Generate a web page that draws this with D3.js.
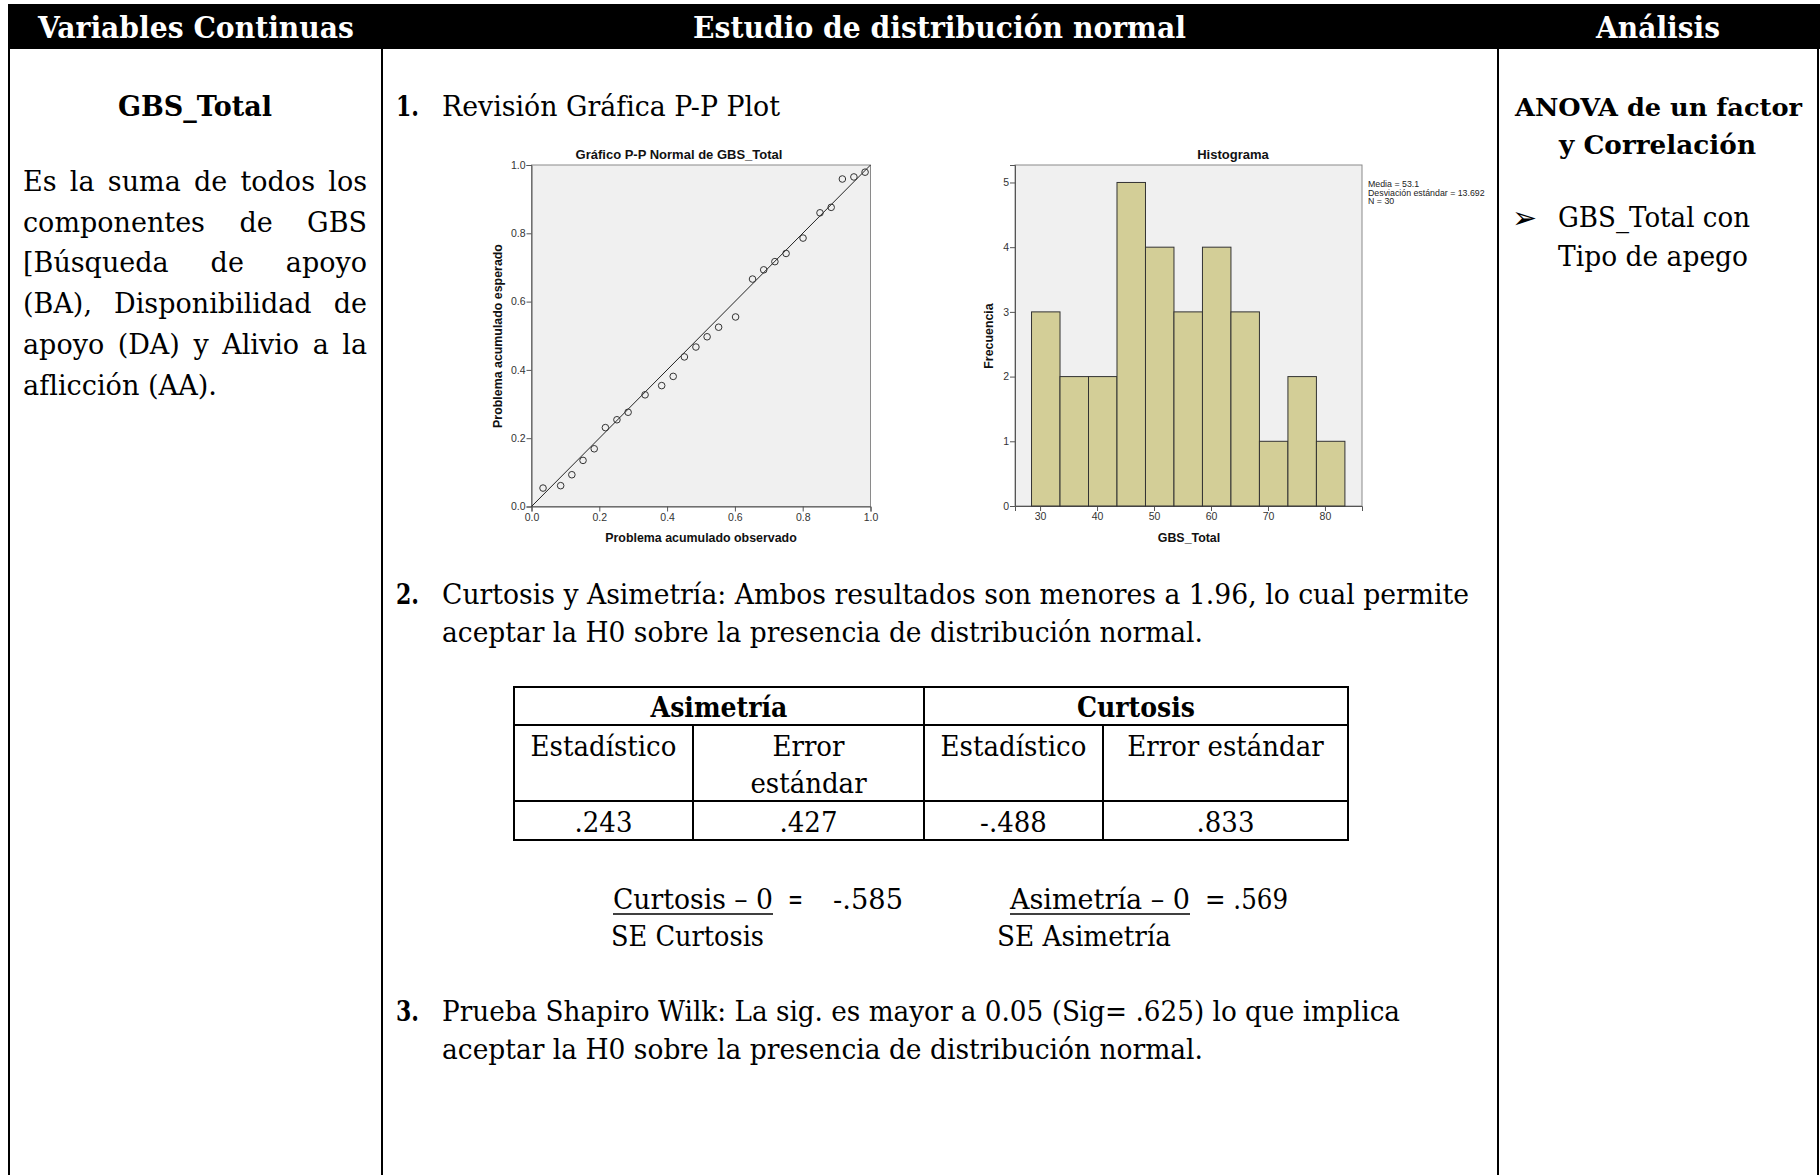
<!DOCTYPE html>
<html lang="es">
<head>
<meta charset="UTF-8">
<title>GBS_Total - Estudio de distribución normal</title>
<script src="https://d3js.org/d3.v7.min.js"></script>
<style>
  body { margin: 0; background: #fff; }
  svg { display: block; }
  .serif { font-family: "DejaVu Serif", "Liberation Serif", serif; }
  .spss { font-family: "Liberation Sans", Arial, sans-serif; }
</style>
</head>
<body>
<svg width="1820" height="1175"></svg>
<script>
// P-P plot: observed vs expected cumulative probability
const ppObserved = [0.034, 0.086, 0.119, 0.152, 0.185, 0.218, 0.252, 0.285, 0.335, 0.384, 0.418, 0.451, 0.485,
                    0.518, 0.552, 0.602, 0.652, 0.685, 0.718, 0.751, 0.801, 0.851, 0.884, 0.917, 0.951, 0.984];
const ppExpected = [0.054, 0.061, 0.093, 0.135, 0.169, 0.231, 0.254, 0.276, 0.327, 0.354, 0.381, 0.438, 0.467,
                    0.497, 0.525, 0.555, 0.666, 0.693, 0.717, 0.741, 0.786, 0.860, 0.876, 0.959, 0.965, 0.979];
const ppTicks = [0, 0.2, 0.4, 0.6, 0.8, 1.0];

// histogram of GBS_Total
const binEdges = [28.5, 33.5, 38.5, 43.5, 48.5, 53.5, 58.5, 63.5, 68.5, 73.5, 78.5, 83.5];
const binCounts = [3, 2, 2, 5, 4, 3, 4, 3, 1, 2, 1];
const histXTicks = [30, 40, 50, 60, 70, 80];
const histYTicks = [0, 1, 2, 3, 4, 5];
const histStats = ["Media = 53.1", "Desviación estándar = 13.692", "N = 30"];

// skewness / kurtosis table
const tableGroups = ["Asimetría", "Curtosis"];
const tableSubHeads = [["Estadístico"], ["Error", "estándar"], ["Estadístico"], ["Error estándar"]];
const tableValues = [".243", ".427", "-.488", ".833"];

const columnTitles = ["Variables Continuas", "Estudio de distribución normal", "Análisis"];

const svg = d3.select("svg");
svg.append("rect").attr("width", 1820).attr("height", 1175).attr("fill", "#fff");

// text squeezed/stretched to a given span
function fitText(g, str, x0, x1, y, size, bold, fill) {
  return g.append("text")
    .attr("x", x0).attr("y", y)
    .attr("font-size", size)
    .attr("font-weight", bold ? "bold" : "normal")
    .attr("fill", fill || "#000")
    .attr("textLength", x1 - x0)
    .attr("lengthAdjust", "spacingAndGlyphs")
    .text(str);
}

// centred, slightly condensed text
function centerText(g, str, cx, y, size, bold, squeeze) {
  const t = g.append("text").attr("y", y).attr("font-size", size)
    .attr("font-weight", bold ? "bold" : "normal").text(str);
  const w = t.node().getComputedTextLength() * (squeeze || 0.92);
  t.attr("x", cx - w / 2).attr("textLength", w).attr("lengthAdjust", "spacingAndGlyphs");
  return t;
}

// justified line: words spread over [x0, x1]
function justify(g, str, x0, x1, y, size) {
  const words = str.split(" ");
  const nodes = words.map(w => g.append("text").attr("y", y).attr("font-size", size).text(w));
  const widths = nodes.map(n => n.node().getComputedTextLength());
  const gap = (x1 - x0 - d3.sum(widths)) / (words.length - 1);
  let x = x0;
  nodes.forEach((n, i) => { n.attr("x", x); x += widths[i] + gap; });
}

// ---------- frame ----------
const frame = svg.append("g");
frame.append("rect").attr("x", 8).attr("y", 4).attr("width", 1812).attr("height", 45).attr("fill", "#000");
[9, 382, 1498, 1818].forEach(x => {
  frame.append("line").attr("x1", x).attr("x2", x).attr("y1", 48).attr("y2", 1175)
    .attr("stroke", "#000").attr("stroke-width", 2);
});

const txt = svg.append("g").attr("class", "serif");
fitText(txt, columnTitles[0], 38, 354, 38, 30, true, "#fff");
fitText(txt, columnTitles[1], 693, 1186, 38, 30, true, "#fff");
fitText(txt, columnTitles[2], 1596, 1720, 38, 30, true, "#fff");

// ---------- left column ----------
centerText(txt, "GBS_Total", 195, 116, 27, true, 1.0);
const para = [
  "Es la suma de todos los",
  "componentes de GBS",
  "[Búsqueda de apoyo",
  "(BA), Disponibilidad de",
  "apoyo (DA) y Alivio a la"
];
para.forEach((l, i) => justify(txt, l, 23, 367, 191 + i * 40.7, 27));
fitText(txt, "aflicción (AA).", 23, 217, 191 + 5 * 40.7, 27, false);

// ---------- right column ----------
fitText(txt, "ANOVA de un factor", 1515, 1802, 116, 25, true);
fitText(txt, "y Correlación", 1559, 1756, 154, 26, true);
svg.append("text").attr("x", 1512).attr("y", 228).attr("font-size", 30)
  .attr("font-family", "DejaVu Sans").text("➢");
fitText(txt, "GBS_Total con", 1558, 1750, 227, 27, false);
fitText(txt, "Tipo de apego", 1558, 1748, 266, 27, false);

// ---------- middle column text ----------
fitText(txt, "1.", 396, 419, 116, 28, true);
fitText(txt, "Revisión Gráfica P-P Plot", 442, 780, 116, 28, false);
fitText(txt, "2.", 396, 419, 604, 28, true);
fitText(txt, "Curtosis y Asimetría: Ambos resultados son menores a 1.96, lo cual permite", 442, 1469, 604, 28, false);
fitText(txt, "aceptar la H0 sobre la presencia de distribución normal.", 442, 1203, 642, 28, false);
fitText(txt, "3.", 396, 419, 1021, 28, true);
fitText(txt, "Prueba Shapiro Wilk: La sig. es mayor a 0.05 (Sig= .625) lo que implica", 442, 1400, 1021, 28, false);
fitText(txt, "aceptar la H0 sobre la presencia de distribución normal.", 442, 1203, 1059, 28, false);

// ---------- table ----------
const colX = [514, 693, 924, 1103, 1348];
const rowY = [687, 725, 801, 840];
const tbl = svg.append("g");
rowY.forEach(y => tbl.append("line").attr("x1", colX[0]).attr("x2", colX[4]).attr("y1", y).attr("y2", y)
  .attr("stroke", "#000").attr("stroke-width", 2));
colX.forEach((x, i) => {
  const y0 = (i === 1 || i === 3) ? rowY[1] : rowY[0];
  tbl.append("line").attr("x1", x).attr("x2", x).attr("y1", y0 - 1).attr("y2", rowY[3] + 1)
    .attr("stroke", "#000").attr("stroke-width", 2);
});
tableGroups.forEach((s, i) => centerText(txt, s, (colX[i * 2] + colX[i * 2 + 2]) / 2, 717, 28, true, 0.9));
tableSubHeads.forEach((lines, i) => {
  lines.forEach((s, j) => centerText(txt, s, (colX[i] + colX[i + 1]) / 2, 756 + j * 37, 28, false, 0.93));
});
tableValues.forEach((s, i) => centerText(txt, s, (colX[i] + colX[i + 1]) / 2, 832, 28, false, 0.93));

// ---------- formulas ----------
fitText(txt, "Curtosis – 0", 613, 773, 909, 28, false);
fitText(txt, "=", 788, 803, 909, 28, false);
fitText(txt, "-.585", 833, 903, 909, 28, false);
fitText(txt, "SE Curtosis", 611, 764, 946, 28, false);
fitText(txt, "Asimetría – 0", 1010, 1190, 909, 28, false);
fitText(txt, "= .569", 1205, 1288, 909, 28, false);
fitText(txt, "SE Asimetría", 997, 1171, 946, 28, false);
[[613, 773], [1010, 1190]].forEach(([a, b]) => {
  svg.append("line").attr("x1", a).attr("x2", b).attr("y1", 914).attr("y2", 914)
    .attr("stroke", "#000").attr("stroke-width", 1.5);
});

// ---------- P-P plot ----------
function styleAxis(sel) {
  sel.select(".domain").attr("stroke", "#555");
  sel.selectAll(".tick line").attr("stroke", "#555");
  sel.selectAll(".tick text").attr("fill", "#333").attr("font-size", 10.5)
    .attr("font-family", "Liberation Sans, Arial, sans-serif");
}

const pp = svg.append("g").attr("class", "spss");
const ppX = d3.scaleLinear().domain([0, 1]).range([531.5, 870.5]);
const ppY = d3.scaleLinear().domain([0, 1]).range([506.5, 165]);
pp.append("rect").attr("x", ppX(0)).attr("y", ppY(1))
  .attr("width", ppX(1) - ppX(0)).attr("height", ppY(0) - ppY(1))
  .attr("fill", "#f0f0f0").attr("stroke", "#8a8a8a");
pp.append("g").attr("transform", `translate(0,${ppY(0)})`)
  .call(d3.axisBottom(ppX).tickValues(ppTicks).tickFormat(d3.format(".1f")).tickSize(5).tickPadding(2))
  .call(styleAxis);
pp.append("g").attr("transform", `translate(${ppX(0)},0)`)
  .call(d3.axisLeft(ppY).tickValues(ppTicks).tickFormat(d3.format(".1f")).tickSize(5).tickPadding(1))
  .call(styleAxis);
pp.append("line")
  .attr("x1", ppX(0)).attr("y1", ppY(0)).attr("x2", ppX(1)).attr("y2", ppY(1))
  .attr("stroke", "#222").attr("stroke-width", 1);
pp.selectAll("circle.pt").data(ppObserved).enter().append("circle")
  .attr("class", "pt")
  .attr("cx", d => ppX(d))
  .attr("cy", (d, i) => ppY(ppExpected[i]))
  .attr("r", 3.3).attr("fill", "none").attr("stroke", "#333").attr("stroke-width", 1);
pp.append("text").attr("x", 679).attr("y", 159).attr("text-anchor", "middle")
  .attr("font-size", 13).attr("font-weight", "bold").attr("fill", "#111")
  .text("Gráfico P-P Normal de GBS_Total");
pp.append("text").attr("x", 701).attr("y", 542).attr("text-anchor", "middle")
  .attr("font-size", 12.4).attr("font-weight", "bold").attr("fill", "#111")
  .text("Problema acumulado observado");
pp.append("text").attr("transform", "translate(502,336) rotate(-90)").attr("text-anchor", "middle")
  .attr("font-size", 12.4).attr("font-weight", "bold").attr("fill", "#111")
  .text("Problema acumulado esperado");

// ---------- histogram ----------
const hist = svg.append("g").attr("class", "spss");
const hx = d3.scaleLinear().domain([25.6, 86.5]).range([1015, 1362]);
const hy = d3.scaleLinear().domain([0, 5.27]).range([506, 165]);
hist.append("rect").attr("x", hx(25.6)).attr("y", hy(5.27))
  .attr("width", hx(86.5) - hx(25.6)).attr("height", hy(0) - hy(5.27))
  .attr("fill", "#f0f0f0").attr("stroke", "#8a8a8a");
hist.append("g").attr("transform", `translate(0,${hy(0)})`)
  .call(d3.axisBottom(hx).tickValues(histXTicks).tickFormat(d3.format("d")).tickSize(5).tickPadding(2))
  .call(styleAxis);
hist.append("g").attr("transform", `translate(${hx(25.6)},0)`)
  .call(d3.axisLeft(hy).tickValues(histYTicks).tickFormat(d3.format("d")).tickSize(5).tickPadding(1))
  .call(styleAxis);
hist.selectAll("rect.bar").data(binCounts).enter().append("rect")
  .attr("class", "bar")
  .attr("x", (d, i) => hx(binEdges[i]))
  .attr("width", (d, i) => hx(binEdges[i + 1]) - hx(binEdges[i]))
  .attr("y", d => hy(d))
  .attr("height", d => hy(0) - hy(d))
  .attr("fill", "#d3ce97").attr("stroke", "#333").attr("stroke-width", 1);
hist.append("text").attr("x", 1233).attr("y", 159).attr("text-anchor", "middle")
  .attr("font-size", 13).attr("font-weight", "bold").attr("fill", "#111").text("Histograma");
hist.append("text").attr("x", 1189).attr("y", 542).attr("text-anchor", "middle")
  .attr("font-size", 12.4).attr("font-weight", "bold").attr("fill", "#111").text("GBS_Total");
hist.append("text").attr("transform", "translate(993,336) rotate(-90)").attr("text-anchor", "middle")
  .attr("font-size", 12.4).attr("font-weight", "bold").attr("fill", "#111").text("Frecuencia");
hist.selectAll("text.stat").data(histStats).enter().append("text")
  .attr("class", "stat")
  .attr("x", 1368).attr("y", (d, i) => 187 + i * 8.5)
  .attr("font-size", 8.8).attr("fill", "#222").text(d => d);
</script>
</body>
</html>
